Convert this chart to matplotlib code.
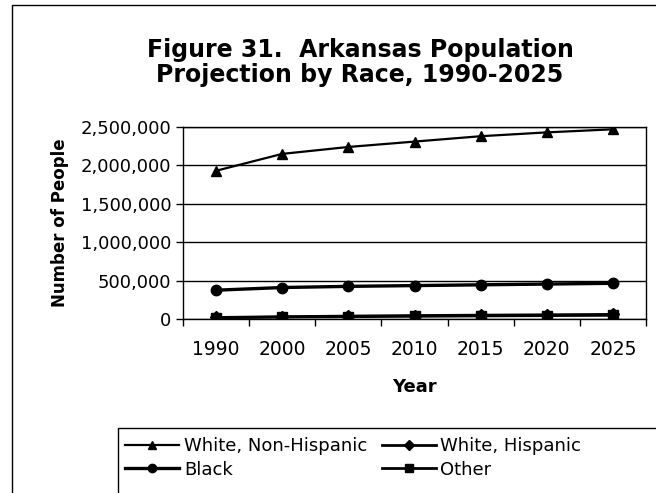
import matplotlib
matplotlib.use("Agg")
import matplotlib.pyplot as plt
from matplotlib.patches import Rectangle
from matplotlib.ticker import FuncFormatter, FixedLocator

plt.rcParams["font.family"] = ["DejaVu Sans"]

# data
years = ["1990", "2000", "2005", "2010", "2015", "2020", "2025"]
white_non_hispanic = [1930000, 2150000, 2240000, 2310000, 2380000, 2430000, 2470000]
white_hispanic = [20000, 30000, 38000, 45000, 50000, 55000, 60000]
black = [375000, 410000, 425000, 435000, 445000, 455000, 465000]
other = [15000, 25000, 30000, 35000, 40000, 44000, 48000]

series = [
    ("White, Non-Hispanic", white_non_hispanic, "^", 1.6),
    ("White, Hispanic", white_hispanic, "D", 2),
    ("Black", black, "o", 2.4),
    ("Other", other, "s", 2),
]

W, H = 656, 493
fig = plt.figure(figsize=(W / 100, H / 100), dpi=100)
ax = fig.add_axes([183 / W, 1 - 319 / H, (646 - 183) / W, (319 - 127) / H])

x = list(range(len(years)))
handles = {}
for name, vals, mk, lw in series:
    ms = 6 if mk == "D" else 7.5
    h, = ax.plot(x, vals, color="black", marker=mk, markersize=ms, linewidth=lw, label=name)
    handles[name] = h

ax.set_xlim(-0.5, len(years) - 0.5)
ax.set_ylim(0, 2500000)
ax.set_yticks(range(0, 2500001, 500000))
ax.yaxis.set_major_formatter(FuncFormatter(lambda v, p: f"{int(v):,}"))
ax.grid(axis="y", color="black", linewidth=1)
ax.set_axisbelow(True)

# category axis: tick marks between categories, labels at centres
ax.xaxis.set_major_locator(FixedLocator([i - 0.5 for i in range(len(years) + 1)]))
ax.xaxis.set_major_formatter(FuncFormatter(lambda v, p: ""))
ax.xaxis.set_minor_locator(FixedLocator(x))
ax.set_xticklabels(years, minor=True)
ax.tick_params(axis="x", which="major", length=5, width=1, color="black", direction="out")
ax.tick_params(axis="x", which="minor", length=0, pad=15, labelsize=13.5)
ax.tick_params(axis="y", length=5, width=1, direction="out", labelsize=13)

for s in ax.spines.values():
    s.set_color("black")
    s.set_linewidth(1)

ax.set_xlabel("Year", fontsize=13, fontweight="bold", labelpad=14)
ax.set_ylabel("Number of People", fontsize=12, fontweight="bold", labelpad=8)

fig.text(360 / W, 1 - 50 / H, "Figure 31.  Arkansas Population", ha="center", va="center",
         fontsize=17, fontweight="bold")
fig.text(360 / W, 1 - 75 / H, "Projection by Race, 1990-2025", ha="center", va="center",
         fontsize=17, fontweight="bold")

# outer chart border
fig.patches.append(Rectangle((12 / W, -0.01), 1.0, 1 - 5 / H + 0.01, transform=fig.transFigure,
                             fill=False, edgecolor="black", linewidth=1))

# legend frame runs off the bottom/right edge like the scan
fig.patches.append(Rectangle((118 / W, -0.05), 1.0, 1 - 428 / H + 0.05, transform=fig.transFigure,
                             fill=False, edgecolor="black", linewidth=1))

# legend reads row by row, so order handles for column-wise filling
order = ["White, Non-Hispanic", "Black", "White, Hispanic", "Other"]
leg = fig.legend(handles=[handles[n] for n in order], loc="upper left",
                 bbox_to_anchor=(118 / W, 1 - 430 / H), ncol=2, fontsize=13, frameon=False,
                 handlelength=3, handletextpad=0.25, columnspacing=0.8, borderaxespad=0,
                 borderpad=0.4, labelspacing=0.3, markerscale=0.8)

fig.savefig("out.png", dpi=100)
